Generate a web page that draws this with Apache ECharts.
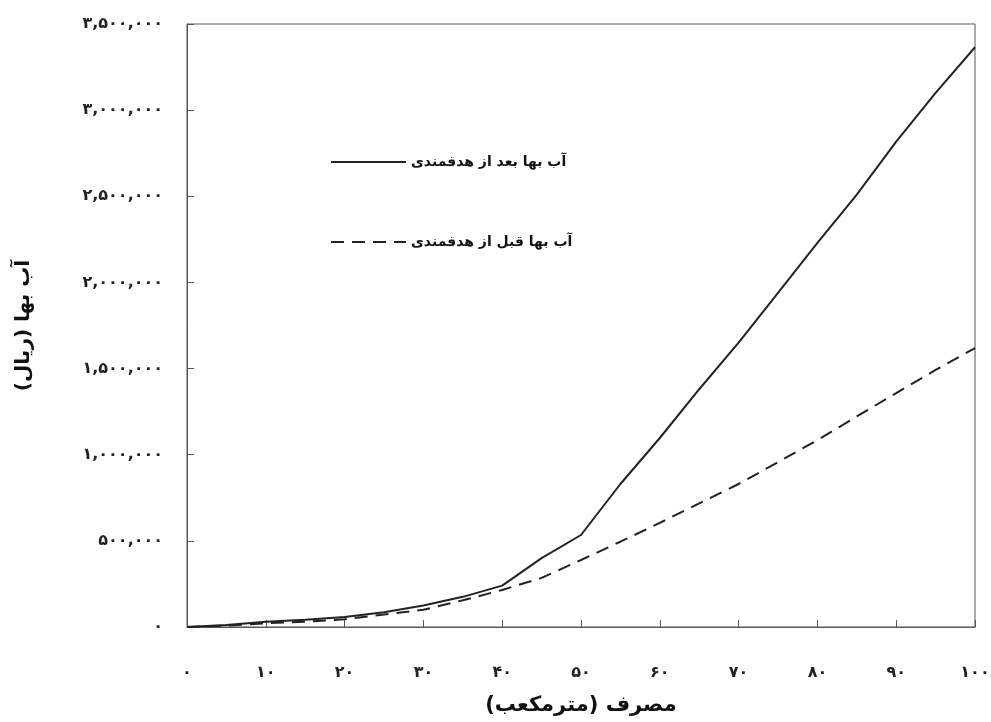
<!DOCTYPE html>
<html>
<head>
<meta charset="utf-8">
<script src="https://cdn.jsdelivr.net/npm/echarts@6/dist/echarts.min.js"></script>
<style>
  html, body { margin: 0; padding: 0; background: #ffffff; }
  #chart { width: 991px; height: 722px; }
</style>
</head>
<body>
<div id="chart"></div>
<script>
// Consumption (cubic metres)
var consumption = [0, 5, 10, 15, 20, 25, 30, 35, 40, 45, 50, 55, 60, 65, 70, 75, 80, 85, 90, 95, 100];
// Water bill after targeted subsidies (rial)
var afterReform = [0, 12000, 30000, 42000, 58000, 85000, 125000, 175000, 240000, 400000, 534000, 830000, 1097000, 1380000, 1650000, 1940000, 2229000, 2510000, 2817000, 3100000, 3365000];
// Water bill before targeted subsidies (rial)
var beforeReform = [0, 8000, 22000, 30000, 45000, 72000, 100000, 155000, 215000, 285000, 389000, 495000, 604000, 718000, 830000, 957000, 1085000, 1222000, 1358000, 1492000, 1619000];

var seriesNames = ['آب بها بعد از هدفمندی', 'آب بها قبل از هدفمندی'];
var xAxisTitle = '\u200Fمصرف (مترمکعب)\u200F';
var yAxisTitle = '\u200Fآب بها (ریال)\u200F';

var faDigits = ['۰','۱','۲','۳','۴','۵','۶','۷','۸','۹'];
function toFa(n) {
  var s = String(Math.round(n)).replace(/\B(?=(\d{3})+(?!\d))/g, ',');
  return s.replace(/\d/g, function (d) { return faDigits[+d]; });
}

function pairs(xs, ys) {
  return xs.map(function (x, i) { return [x, ys[i]]; });
}

var chart = echarts.init(document.getElementById('chart'), null, { renderer: 'canvas' });
var axisColor = '#555';
var font = 'DejaVu Sans, sans-serif';

chart.setOption({
  backgroundColor: '#ffffff',
  animation: false,
  grid: {
    left: 187, right: 16, top: 24, bottom: 95,
    containLabel: false,
    outerBoundsMode: 'none',
    show: true, borderColor: axisColor, borderWidth: 1
  },
  legend: {
    orient: 'vertical',
    left: 330,
    top: 155,
    padding: 0,
    itemWidth: 75,
    itemHeight: 16,
    itemGap: 66,
    data: seriesNames,
    itemStyle: { opacity: 0 },
    textStyle: { fontFamily: font, fontSize: 14, fontWeight: 'bold', color: '#111' }
  },
  xAxis: {
    type: 'value',
    min: 0, max: 100, interval: 10,
    name: xAxisTitle,
    nameLocation: 'middle',
    nameGap: 68,
    nameTextStyle: { fontFamily: font, fontSize: 21, fontWeight: 'bold', color: '#111' },
    axisLine: { lineStyle: { color: axisColor, width: 1 } },
    axisTick: { inside: true, length: 7, lineStyle: { color: axisColor } },
    axisLabel: { margin: 38, fontFamily: font, fontSize: 16, fontWeight: 'bold', color: '#222', formatter: toFa },
    splitLine: { show: false }
  },
  yAxis: {
    type: 'value',
    min: 0, max: 3500000, interval: 500000,
    name: yAxisTitle,
    nameLocation: 'middle',
    nameGap: 153,
    nameRotate: 90,
    nameTextStyle: { fontFamily: font, fontSize: 20, fontWeight: 'bold', color: '#111' },
    axisLine: { show: true, lineStyle: { color: axisColor, width: 1 } },
    axisTick: { show: true, inside: true, length: 7, lineStyle: { color: axisColor } },
    axisLabel: { margin: 24, fontFamily: font, fontSize: 16, fontWeight: 'bold', color: '#222', formatter: toFa },
    splitLine: { show: false }
  },
  series: [
    {
      name: seriesNames[0],
      type: 'line',
      data: pairs(consumption, afterReform),
      symbol: 'none',
      lineStyle: { color: '#222', width: 2, type: 'solid' },
      itemStyle: { color: '#222' }
    },
    {
      name: seriesNames[1],
      type: 'line',
      data: pairs(consumption, beforeReform),
      symbol: 'none',
      lineStyle: { color: '#222', width: 2, type: [13, 8] },
      itemStyle: { color: '#222' }
    }
  ]
});
</script>
</body>
</html>
